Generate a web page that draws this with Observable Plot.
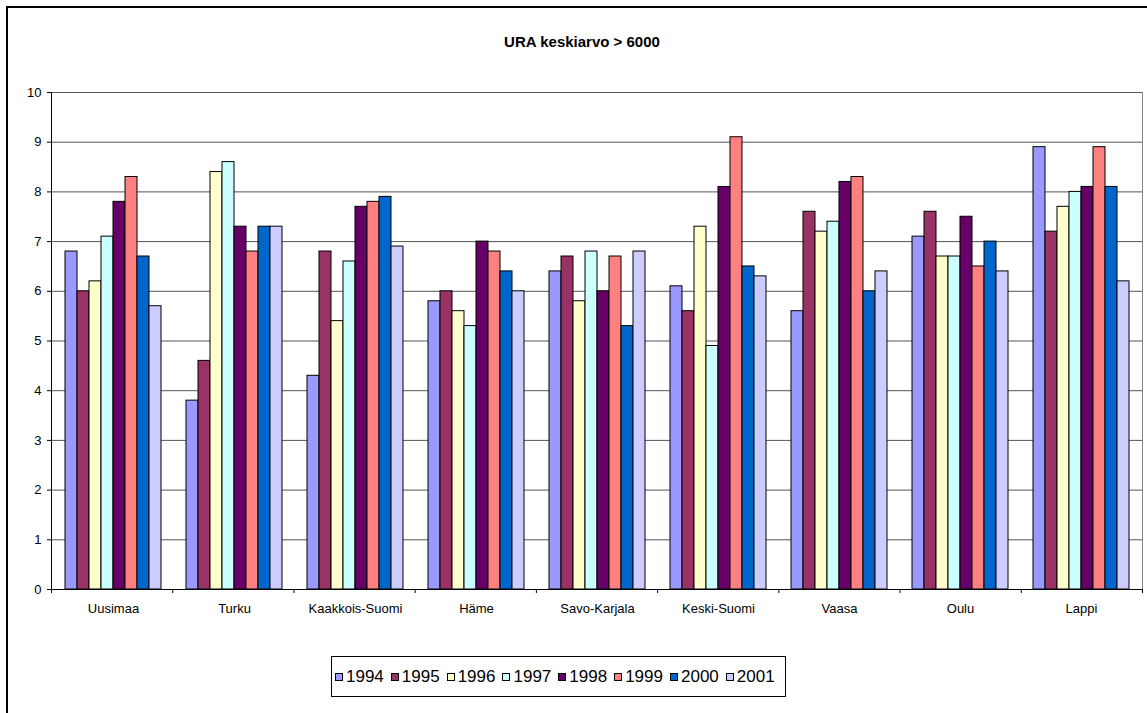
<!DOCTYPE html>
<html>
<head>
<meta charset="utf-8">
<script src="https://cdn.jsdelivr.net/npm/d3@7"></script>
<script src="https://cdn.jsdelivr.net/npm/@observablehq/plot@0.6"></script>
<style>
  html, body { margin: 0; padding: 0; background: #fff; }
  #wrap { position: relative; width: 1147px; height: 713px; overflow: hidden; font-family: "Liberation Sans", Arial, sans-serif; }
  #outer { position: absolute; left: 6px; top: 6px; width: 1300px; height: 900px; border: 2px solid #000; box-sizing: border-box; }
  .layer { position: absolute; left: 0; top: 0; }
  #title { position: absolute; left: 382px; top: 34px; width: 400px; text-align: center; font-weight: bold; font-size: 15px; line-height: 15px; color: #000; }
  #legend { position: absolute; left: 331px; top: 656px; width: 455px; height: 41px; border: 1px solid #000; box-sizing: border-box; display: flex; align-items: center; padding-left: 3px; font-size: 17px; color: #000; }
  .item { display: flex; align-items: center; margin-right: 7px; }
  .sw { width: 6px; height: 6px; border: 1px solid #000; margin-right: 3px; }
</style>
</head>
<body>
<div id="wrap">
  <div id="outer"></div>
  <div id="back" class="layer"></div>
  <div id="front" class="layer"></div>
  <div id="title">URA keskiarvo &gt; 6000</div>
  <div id="legend"></div>
</div>
<script>
// Regions along the horizontal axis
const regions = ["Uusimaa", "Turku", "Kaakkois-Suomi", "Häme", "Savo-Karjala", "Keski-Suomi", "Vaasa", "Oulu", "Lappi"];
// Series (one bar per year within each region)
const years = ["1994", "1995", "1996", "1997", "1998", "1999", "2000", "2001"];
const yearColors = ["#9999FF", "#993366", "#FFFFCC", "#CCFFFF", "#660066", "#FF8080", "#0066CC", "#CCCCFF"];
// Values per year, in region order
const v1994 = [6.8, 3.8, 4.3, 5.8, 6.4, 6.1, 5.6, 7.1, 8.9];
const v1995 = [6.0, 4.6, 6.8, 6.0, 6.7, 5.6, 7.6, 7.6, 7.2];
const v1996 = [6.2, 8.4, 5.4, 5.6, 5.8, 7.3, 7.2, 6.7, 7.7];
const v1997 = [7.1, 8.6, 6.6, 5.3, 6.8, 4.9, 7.4, 6.7, 8.0];
const v1998 = [7.8, 7.3, 7.7, 7.0, 6.0, 8.1, 8.2, 7.5, 8.1];
const v1999 = [8.3, 6.8, 7.8, 6.8, 6.7, 9.1, 8.3, 6.5, 8.9];
const v2000 = [6.7, 7.3, 7.9, 6.4, 5.3, 6.5, 6.0, 7.0, 8.1];
const v2001 = [5.7, 7.3, 6.9, 6.0, 6.8, 6.3, 6.4, 6.4, 6.2];
// Y-axis tick values
const yTicks = [0, 1, 2, 3, 4, 5, 6, 7, 8, 9, 10];

const series = [v1994, v1995, v1996, v1997, v1998, v1999, v2000, v2001];
const rows = [];
regions.forEach((region, i) => {
  years.forEach((year, j) => rows.push({ region, year, value: series[j][i] }));
});

const frameLayout = {
  width: 1147,
  height: 713,
  marginLeft: 51,
  marginRight: 5,
  marginTop: 92,
  marginBottom: 124,
  style: { fontFamily: "'Liberation Sans', Arial, sans-serif", fontSize: "13px", background: "transparent", color: "#000" }
};

// Back layer: plot-area frame, gridlines, value axis and category separator ticks
const separators = d3.range(regions.length + 1);
const back = Plot.plot({
  ...frameLayout,
  x: { type: "linear", domain: [0, regions.length] },
  y: { domain: [0, 10], label: null },
  marks: [
    Plot.frame({ stroke: "#888" }),
    Plot.ruleY(yTicks.slice(1), { stroke: "#555", strokeWidth: 1 }),
    Plot.ruleY([0], { stroke: "#000" }),
    Plot.ruleX([0], { stroke: "#000" }),
    Plot.axisY({ ticks: yTicks, tickSize: 4, tickPadding: 6, fontSize: 13, label: null }),
    Plot.axisX({ ticks: separators, tickSize: 4, tickFormat: () => "", label: null })
  ]
});
document.getElementById("back").appendChild(back);

// Front layer: grouped bars by region and year
const front = Plot.plot({
  ...frameLayout,
  fx: { domain: regions, paddingInner: 0.16, paddingOuter: 0.08, label: null },
  x: { domain: years, padding: 0, axis: null },
  y: { domain: [0, 10], axis: null },
  color: { domain: years, range: yearColors },
  marks: [
    Plot.barY(rows, { fx: "region", x: "year", y: "value", fill: "year", stroke: "#000", strokeWidth: 1 }),
    Plot.axisFx({ anchor: "bottom", tickSize: 0, tickPadding: 14, fontSize: 13, label: null })
  ]
});
document.getElementById("front").appendChild(front);

// Legend
const legend = d3.select("#legend");
years.forEach((yr, i) => {
  const item = legend.append("div").attr("class", "item");
  item.append("div").attr("class", "sw").style("background", yearColors[i]);
  item.append("span").text(yr);
});
</script>
</body>
</html>
